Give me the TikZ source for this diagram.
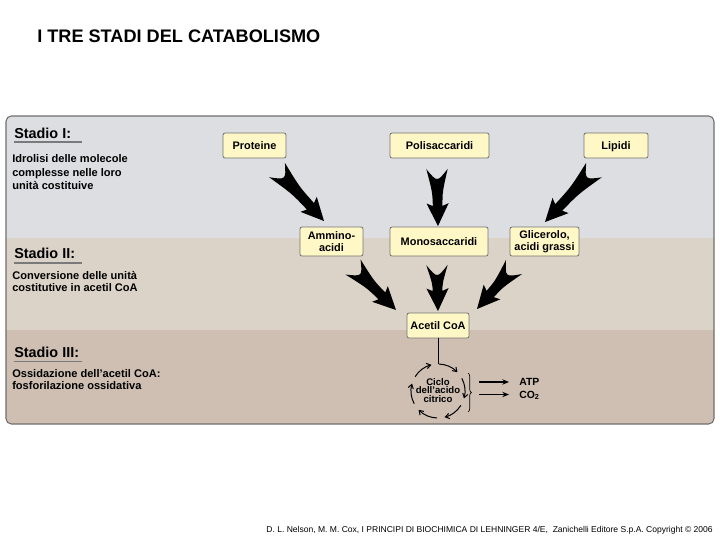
\documentclass[tikz,border=0pt]{standalone}
\usepackage{fontspec}
\setmainfont{Liberation Sans}
\usetikzlibrary{calc,arrows.meta,decorations.pathreplacing}
\definecolor{bandA}{HTML}{DCDEE1}
\definecolor{bandB}{HTML}{DBD3C7}
\definecolor{bandC}{HTML}{CEBFB2}
\definecolor{boxfill}{HTML}{FFF8C6}
\definecolor{panelborder}{HTML}{6E6E6E}
\definecolor{ulinecol}{HTML}{7A7A7A}
\newcommand\fatarrow[2]{%
  \coordinate (fa-n) at ($(#1)!10pt!(#2)$);
  \coordinate (fa-c) at ($(#1)!0.4!(#2)$);
  \coordinate (fa-h) at ($(#2)!15pt!(#1)$);
  \coordinate (fa-b) at ($(#2)!17pt!(#1)$);
  \fill[fatarrowfill] ($(#1)!8pt!90:(#2)$)
    .. controls ($(fa-c)!3.8pt!90:(#2)$) .. ($(fa-h)!3.6pt!90:(#2)$)
    -- ($(fa-b)!8.3pt!90:(#2)$)
    -- (#2)
    -- ($(fa-b)!8.3pt!-90:(#2)$)
    -- ($(fa-h)!3.6pt!-90:(#2)$)
    .. controls ($(fa-c)!3.8pt!-90:(#2)$) .. ($(#1)!8pt!-90:(#2)$)
    .. controls (fa-n) .. ($(#1)!8pt!90:(#2)$) -- cycle;
}
\begin{document}
\begin{tikzpicture}[x=0.75pt,y=-0.75pt,
  fatarrowfill/.style={fill=black},
  box/.style={draw=black!55, fill=boxfill, rounded corners=1.5pt, line width=0.6pt,
    font=\bfseries\fontsize{8.2}{8.6}\selectfont, align=center, inner sep=1pt,
    minimum height=18.75pt},
  onebox/.style={box, text height=6pt, text depth=0pt},
  stagetitle/.style={anchor=base west, inner sep=0pt, font=\bfseries\fontsize{10.8}{12}\selectfont},
  stagetext/.style={anchor=base west, inner sep=0pt, font=\bfseries\fontsize{8.3}{10}\selectfont},
  uline/.style={draw=ulinecol, line width=1pt},
  cyc/.style={line width=0.75pt, -{Straight Barb[length=3pt,width=4pt]}},
  outarrow/.style={line width=0.8pt, -{Stealth[length=5pt,width=4pt]}},
  smalllabel/.style={anchor=base west, inner sep=0pt, font=\bfseries\fontsize{7.8}{9}\selectfont}]
\useasboundingbox (0,0) rectangle (720,540);

% title
\node[anchor=base west, inner sep=0pt, font=\bfseries\fontsize{13.6}{15}\selectfont] (title) at (37,42) {I TRE STADI DEL CATABOLISMO};

% panel bands
\fill[bandA, rounded corners=4pt] (6,116) rectangle (714,250);
\fill[bandC, rounded corners=4pt] (6,320) rectangle (714,424);
\fill[bandB] (6,238) rectangle (714,330);
\draw[panelborder, line width=0.8pt, rounded corners=4pt] (6,116) rectangle (714,424);

% stage labels
\node[stagetitle] (st1) at (14,138) {Stadio I:};
\draw[uline] (14,142) -- (82,142);
\node[stagetext] (s1a) at (12,162) {Idrolisi delle molecole};
\node[stagetext] (s1b) at (12,176) {complesse nelle loro};
\node[stagetext] (s1c) at (12,189.5) {unità costituive};

\node[stagetitle] (st2) at (14,258) {Stadio II:};
\draw[uline] (14,263) -- (82,263);
\node[stagetext] (s2a) at (12,279) {Conversione delle unità};
\node[stagetext] (s2b) at (12,291.5) {costitutive in acetil CoA};

\node[stagetitle] (st3) at (14,357) {Stadio III:};
\draw[uline] (14,361.5) -- (82,361.5);
\node[stagetext] (s3a) at (12,377) {Ossidazione dell'acetil CoA:};
\node[stagetext] (s3b) at (12,389.5) {fosforilazione ossidativa};

% boxes
\node[onebox, minimum width=47.25pt] (prot) at (254.5,145.5) {Proteine};
\node[onebox, minimum width=74.25pt] (polis) at (439.5,145.5) {Polisaccaridi};
\node[onebox, minimum width=48pt] (lip) at (616,145.5) {Lipidi};
\node[box, minimum width=47.25pt, minimum height=21.75pt] (amm) at (331.5,241.5) {Ammino-\\acidi};
\node[onebox, minimum width=73.5pt, minimum height=21.75pt] (mono) at (439,241.5) {Monosaccaridi};
\node[box, minimum width=51.75pt, minimum height=21.75pt] (glic) at (544.5,241.5) {Glicerolo,\\acidi grassi};
\node[onebox, minimum width=46.5pt] (acet) at (438,325.5) {Acetil CoA};

% fat arrows
\coordinate (p1t) at (277,170); \coordinate (p1h) at (324,221);
\coordinate (p2t) at (437,169); \coordinate (p2h) at (438,226);
\coordinate (p3t) at (594,170); \coordinate (p3h) at (545,222);
\coordinate (q1t) at (353,267); \coordinate (q1h) at (396,310);
\coordinate (q2t) at (437,265); \coordinate (q2h) at (438,311);
\coordinate (q3t) at (514,267); \coordinate (q3h) at (477,309);
\fatarrow{p1t}{p1h}
\fatarrow{p2t}{p2h}
\fatarrow{p3t}{p3h}
\fatarrow{q1t}{q1h}
\fatarrow{q2t}{q2h}
\fatarrow{q3t}{q3h}

% citric acid cycle
\coordinate (cc) at (438,391);
\coordinate (ctop) at (438,364);
\draw[line width=0.6pt] (acet.south) -- (ctop);
\foreach \s in {272,332,392,452,512,572}{
  \draw[cyc] ($(cc)+(\s:27)$) arc[start angle=\s, end angle=\s+44, radius=27];
}
\node[inner sep=0pt, align=center, font=\bfseries\fontsize{7.2}{6.4}\selectfont] (ciclo) at (438,390.5) {Ciclo\\dell'acido\\citrico};
\coordinate (br1) at (468,373); \coordinate (br2) at (468,412);
\draw[decorate, decoration={brace, amplitude=2.5pt}, line width=0.5pt] (br1) -- (br2);

\node[smalllabel] (atp) at (519,385) {ATP};
\node[smalllabel] (co2) at (519,398) {CO\textsubscript{2}};
\coordinate (a1s) at (479,382); \coordinate (a1e) at (509,382);
\coordinate (a2s) at (479,394.5); \coordinate (a2e) at (509,394.5);
\draw[outarrow] (a1s) -- (a1e);
\draw[outarrow] (a2s) -- (a2e);

% footer
\node[anchor=base east, inner sep=0pt, font=\fontsize{6.4}{7}\selectfont] (foot) at (713,532) {D. L. Nelson, M. M. Cox, I PRINCIPI DI BIOCHIMICA DI LEHNINGER 4/E,\ \ Zanichelli Editore S.p.A. Copyright © 2006};
\end{tikzpicture}
\end{document}
